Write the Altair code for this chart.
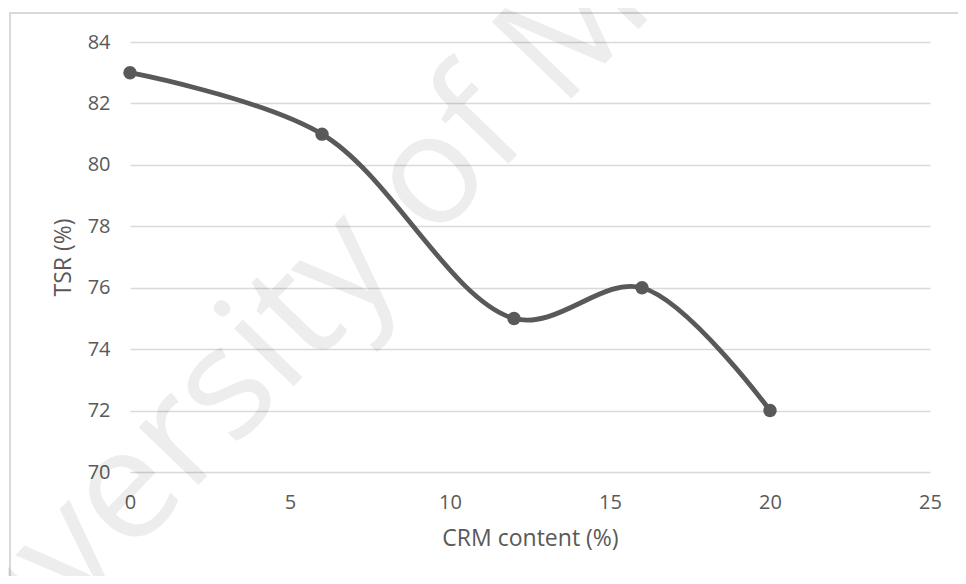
import altair as alt
import pandas as pd

crm_content = [0, 6, 12, 16, 20]
tsr_values = [83, 81, 75, 76, 72]
x_ticks = [0, 5, 10, 15, 20, 25]
y_ticks = [70, 72, 74, 76, 78, 80, 82, 84]
watermark_a = ["University"]
watermark_b = ["of Malaya"]

df = pd.DataFrame({"crm": crm_content, "tsr": tsr_values})

FONT = "Open Sans"
GREY = "#595959"

x = alt.X(
    "crm:Q",
    scale=alt.Scale(domain=[0, 25], nice=False),
    axis=alt.Axis(
        values=x_ticks, title="CRM content (%)", grid=False, domain=False, ticks=False,
        labelFlush=False,
        labelPadding=20, labelFontSize=20, labelColor=GREY, labelFont=FONT,
        titleFontSize=23, titleColor=GREY, titleFont=FONT, titleFontWeight="normal",
        titlePadding=15,
    ),
)
y = alt.Y(
    "tsr:Q",
    scale=alt.Scale(domain=[70, 84], nice=False, zero=False),
    axis=alt.Axis(
        values=y_ticks, title="TSR (%)", grid=True, gridColor="#d9d9d9", gridWidth=1.3,
        domain=False, ticks=False,
        labelPadding=20, labelFontSize=20, labelColor=GREY, labelFont=FONT,
        titleFontSize=23, titleColor=GREY, titleFont=FONT, titleFontWeight="normal",
        titlePadding=12,
    ),
)

line = alt.Chart(df).mark_line(
    interpolate="catmull-rom", color=GREY, strokeWidth=4.8
).encode(x=x, y=y)
points = alt.Chart(df).mark_point(
    filled=True, color=GREY, size=180, opacity=1
).encode(x="crm:Q", y="tsr:Q")

wm_a = alt.Chart(pd.DataFrame({"t": watermark_a})).mark_text(
    font=FONT, fontSize=155, color="#000000", opacity=0.065, angle=314,
    align="right", baseline="alphabetic",
).encode(x=alt.value(274), y=alt.value(230), text="t:N")
wm_b = alt.Chart(pd.DataFrame({"t": watermark_b})).mark_text(
    font=FONT, fontSize=155, color="#000000", opacity=0.065, angle=314,
    align="left", baseline="alphabetic",
).encode(x=alt.value(302), y=alt.value(201), text="t:N")

border_df = pd.DataFrame({"b": [0]})
border_left = alt.Chart(border_df).mark_rule(color="#d9d9d9", strokeWidth=2).encode(
    x=alt.value(-120), y=alt.value(-29), y2=alt.value(560)
)
border_top = alt.Chart(border_df).mark_rule(color="#d9d9d9", strokeWidth=2).encode(
    x=alt.value(-121), x2=alt.value(860), y=alt.value(-29)
)

chart = alt.layer(border_left, border_top, line, points, wm_a, wm_b).properties(
    width=800, height=430,
    autosize=alt.AutoSizeParams(type="none"),
    padding={"left": 122, "top": 34, "right": 28, "bottom": 104},
).configure_view(stroke=None)

chart.save("out.html", embed_options={"renderer": "svg", "actions": False})
